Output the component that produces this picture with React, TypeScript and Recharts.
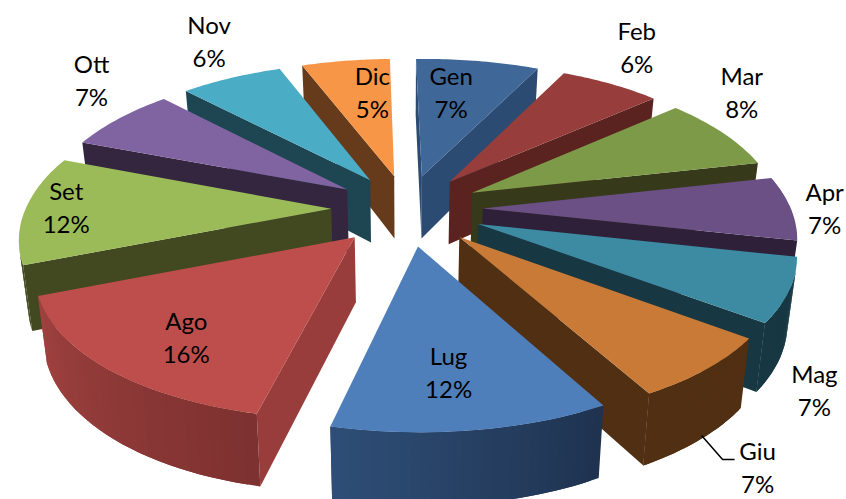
import { PieChart, Pie } from "recharts";

const months = ["Gen", "Feb", "Mar", "Apr", "Mag", "Giu", "Lug", "Ago", "Set", "Ott", "Nov", "Dic"];
const shares = [7, 6, 8, 7, 7, 7, 12, 16, 12, 7, 6, 5];
const rows = months.map((name, i) => ({ name, value: shares[i] }));

// back slices first so the front ones cover them
const paintOrder = ["Dic", "Gen", "Nov", "Feb", "Ott", "Mar", "Set", "Apr", "Mag", "Ago", "Giu", "Lug"];

const topColors = ["#3f6797", "#973d3b", "#7d9a48", "#6a5084", "#3c8ba3", "#c97a36", "#4f7fba", "#bd4e4b", "#9bbb59", "#8064a2", "#4bacc6", "#f79646"];
const wallColors = ["#2c4b72", "#5a2320", "#36391a", "#2d2038", "#173843", "#512f13", "#2f4f78", "#983d3b", "#42481f", "#352640", "#1d4552", "#653b1c"];
// outer rim shading, from the slice's start angle to its end angle
const rimFrom = ["#2c4b72", "#5a2320", "#36391a", "#2d2038", "#173843", "#512f13", "#1f3350", "#7d3130", "#42481f", "#352640", "#1d4552", "#653b1c"];
const rimTo = ["#2c4b72", "#5a2320", "#36391a", "#2d2038", "#173843", "#512f13", "#2f4f78", "#a04240", "#42481f", "#352640", "#1d4552", "#653b1c"];

// label offset from the middle of the slice's outer edge
const labelNudge = [[-26, 34], [32, -31], [22, -32], [30, 10], [20, 109], [50, 105], [-17, -55], [93, -25], [48, 7], [-36, -31], [-34, -32], [19, 34]];

const EXPLODE = 0.245;
const PERSPECTIVE = 0.153;
const SQUASH = 0.46;
const DEPTH = 63.7;
const ROLL = 3;

const rad = (deg: number) => (deg * Math.PI) / 180;

function hexMix(a: string, b: string, t: number) {
  const ch = (s: string, i: number) => parseInt(s.slice(1 + i * 2, 3 + i * 2), 16);
  const out = [0, 1, 2].map((i) => Math.round(ch(a, i) + (ch(b, i) - ch(a, i)) * t));
  return `rgb(${out.join(",")})`;
}

function planeCoords(clock: number, r: number, mid: number) {
  return {
    u: r * Math.sin(rad(clock)) + EXPLODE * Math.sin(rad(mid)),
    v: r * Math.cos(rad(clock)) + EXPLODE * Math.cos(rad(mid)),
  };
}

// pie plane to screen, clock angle in degrees and radius as a fraction of the pie radius
function flatProject(p: any, clock: number, r: number, mid: number) {
  const { u, v } = planeCoords(clock, r, mid);
  const w = 1 + PERSPECTIVE * v;
  return {
    x: p.cx + (p.outerRadius * u) / w,
    y: p.cy - (p.outerRadius * SQUASH * v) / w - ROLL * u,
  };
}

// same, with the camera skew of the original and the walls converging downwards
function project(p: any, clock: number, r: number, mid: number, down = 0) {
  const { u, v } = planeCoords(clock, r, mid);
  const w = 1 + PERSPECTIVE * v;
  const flat = flatProject(p, clock, r, mid);
  const x = flat.x + 2 - 5 * u - 5 * v + u * (10.6 * v + 7.3 * v * v);
  const y = flat.y + 2 + 5 * u * u;
  return {
    x: x - (x - p.cx) * 0.024 * (down / DEPTH),
    y: y + down / Math.pow(w, 0.69),
  };
}

const toPath = (pts: { x: number; y: number }[]) =>
  "M" + pts.map((q) => `${q.x.toFixed(1)},${q.y.toFixed(1)}`).join("L") + "Z";

const facesViewer = (a: any, b: any, c: any) =>
  (b.x - a.x) * (c.y - b.y) - (b.y - a.y) * (c.x - b.x) < 0;

function Slice3D(p: any) {
  const i = months.indexOf(p.payload?.name ?? p.name);
  const start = 90 - p.startAngle;
  const end = 90 - p.endAngle;
  const mid = (start + end) / 2;
  const steps = 28;
  const arc: number[] = [];
  for (let s = 0; s <= steps; s++) arc.push(start + ((end - start) * s) / steps);

  const top = arc.map((c) => project(p, c, 1, mid));
  const low = arc.map((c) => project(p, c, 1, mid, DEPTH));
  const apex = project(p, 0, 0, mid);
  const apexLow = project(p, 0, 0, mid, DEPTH);

  const faces: { d: string; fill: string }[] = [];
  // radial walls
  const first = [apex, top[0], low[0], apexLow];
  if (facesViewer(first[0], first[1], first[2])) faces.push({ d: toPath(first), fill: wallColors[i] });
  const last = [top[steps], apex, apexLow, low[steps]];
  if (facesViewer(last[0], last[1], last[2])) faces.push({ d: toPath(last), fill: wallColors[i] });
  // outer rim in bands, each one running under the next so no seams show
  for (let s = 0; s < steps; s++) {
    if (!facesViewer(top[s], top[s + 1], low[s + 1])) continue;
    const far = Math.min(s + 2, steps);
    faces.push({
      d: toPath([top[s], ...top.slice(s + 1, far + 1), ...low.slice(s + 1, far + 1).reverse(), low[s]]),
      fill: hexMix(rimFrom[i], rimTo[i], s / steps),
    });
  }

  return (
    <g>
      {faces.map((f, k) => (
        <path key={k} d={f.d} fill={f.fill} />
      ))}
      <path d={toPath([apex, ...top])} fill={topColors[i]} />
    </g>
  );
}

function SliceLabel(p: any) {
  const i = months.indexOf(p.name);
  const mid = 90 - p.midAngle;
  const edge = flatProject({ outerRadius: 315, cx: 405, cy: 208 }, mid, 1, mid);
  const x = edge.x + labelNudge[i][0];
  const y = edge.y + labelNudge[i][1];
  const font = { fontFamily: "Lato", fontSize: 24, fill: "#000", textAnchor: "middle" as const };
  return (
    <g>
      {p.name === "Giu" && (
        <path
          d={`M${x - 56},${y - 33}L${x - 35},${y - 9}L${x - 23},${y - 9}`}
          fill="none"
          stroke="#000"
          strokeWidth={1.5}
        />
      )}
      <text x={x} y={y - 8} {...font}>{p.name}</text>
      <text x={x} y={y + 25} {...font}>{`${Math.round(p.percent * 100)}%`}</text>
    </g>
  );
}

const pieProps = {
  data: rows,
  dataKey: "value",
  nameKey: "name",
  cx: 405,
  cy: 208,
  innerRadius: 0,
  outerRadius: 315,
  startAngle: 90,
  endAngle: -270,
  isAnimationActive: false,
  stroke: "none",
};

export default function App() {
  return (
    <div style={{ position: "absolute", left: 0, top: 0, width: 846, height: 499, background: "#fff" }}>
      <PieChart width={846} height={499} margin={{ top: 0, right: 0, bottom: 0, left: 0 }}>
        {paintOrder.map((month) => (
          <Pie
            key={month}
            {...pieProps}
            shape={(p: any) => ((p.payload?.name ?? p.name) === month ? <Slice3D {...p} /> : <g />)}
          />
        ))}
        <Pie {...pieProps} shape={() => <g />} label={SliceLabel} labelLine={false} />
      </PieChart>
    </div>
  );
}
